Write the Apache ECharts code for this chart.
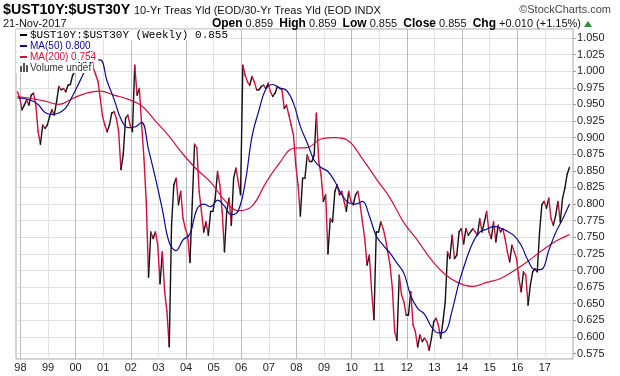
<!DOCTYPE html>
<html>
<head>
<meta charset="utf-8">
<script src="https://cdn.jsdelivr.net/npm/echarts@6/dist/echarts.min.js"></script>
<style>
  html, body { margin: 0; padding: 0; background: #fff; }
  #chart { width: 620px; height: 376px; }
</style>
</head>
<body>
<div id="chart"></div>
<script>
// weekly ratio read off roughly once a month, first point 21-Nov-1997
const startYear = 1997.892
const closeStep = 1 / 12
const closes = [
  0.969, 0.960, 0.942, 0.949, 0.957, 0.949, 0.964, 0.967, 0.949, 0.909, 0.890, 0.919,
  0.914, 0.919, 0.932, 0.942, 0.934, 0.954, 0.977, 0.972, 0.974, 0.969, 0.979, 0.980,
  0.994, 0.999, 1.005, 1.015, 1.020, 1.010, 1.015, 1.025, 1.040, 1.005, 0.995, 0.985,
  0.960, 0.932, 0.919, 0.909, 0.919, 0.937, 0.939, 0.929, 0.909, 0.852, 0.874, 0.929,
  0.934, 0.919, 0.909, 1.009, 0.964, 0.974, 0.919, 0.869, 0.804, 0.690, 0.758, 0.748,
  0.758, 0.738, 0.680, 0.728, 0.668, 0.638, 0.585, 0.768, 0.829, 0.839, 0.799, 0.819,
  0.778, 0.763, 0.753, 0.712, 0.800, 0.890, 0.885, 0.819, 0.789, 0.758, 0.773, 0.753,
  0.789, 0.789, 0.809, 0.849, 0.829, 0.789, 0.728, 0.789, 0.809, 0.768, 0.839, 0.854,
  0.834, 0.814, 1.009, 0.994, 0.984, 0.979, 0.992, 0.984, 0.972, 0.972, 0.977, 0.979,
  0.974, 0.982, 0.969, 0.962, 0.967, 0.977, 0.974, 0.972, 0.944, 0.949, 0.934, 0.919,
  0.904, 0.859, 0.829, 0.782, 0.839, 0.839, 0.874, 0.864, 0.864, 0.874, 0.937, 0.864,
  0.844, 0.804, 0.814, 0.725, 0.778, 0.773, 0.819, 0.829, 0.814, 0.819, 0.804, 0.789,
  0.819, 0.804, 0.799, 0.814, 0.819, 0.799, 0.773, 0.748, 0.708, 0.723, 0.668, 0.626,
  0.758, 0.758, 0.773, 0.763, 0.748, 0.728, 0.708, 0.673, 0.608, 0.595, 0.693, 0.663,
  0.653, 0.633, 0.633, 0.668, 0.618, 0.608, 0.585, 0.603, 0.593, 0.598, 0.593, 0.580,
  0.598, 0.623, 0.628, 0.618, 0.598, 0.623, 0.653, 0.728, 0.718, 0.753, 0.718, 0.723,
  0.758, 0.763, 0.740, 0.763, 0.753, 0.758, 0.763, 0.758, 0.753, 0.778, 0.758, 0.773,
  0.789, 0.758, 0.748, 0.773, 0.743, 0.768, 0.758, 0.763, 0.748, 0.728, 0.713, 0.738,
  0.728, 0.718, 0.688, 0.668, 0.698, 0.693, 0.648, 0.678, 0.698, 0.703, 0.698, 0.758,
  0.799, 0.804, 0.794, 0.809, 0.778, 0.768, 0.783, 0.804, 0.773, 0.809, 0.824, 0.845,
  0.855
]

// MA(50) read every quarter
const ma50Step = 0.25
const ma50 = [
  0.960, 0.959, 0.956, 0.950, 0.938, 0.935, 0.937, 0.945, 0.963, 0.984,
  1.005, 1.016, 1.017, 0.985, 0.958, 0.928, 0.915, 0.916, 0.923, 0.882,
  0.839, 0.792, 0.742, 0.730, 0.746, 0.755, 0.792, 0.800, 0.796, 0.806,
  0.797, 0.784, 0.790, 0.832, 0.902, 0.941, 0.973, 0.980, 0.975, 0.971,
  0.952, 0.917, 0.892, 0.866, 0.855, 0.849, 0.834, 0.814, 0.802, 0.800,
  0.804, 0.782, 0.752, 0.738, 0.726, 0.711, 0.696, 0.662, 0.643, 0.634,
  0.615, 0.606, 0.608, 0.640, 0.682, 0.715, 0.742, 0.758, 0.762, 0.766,
  0.764, 0.759, 0.752, 0.738, 0.715, 0.701, 0.702, 0.730, 0.757, 0.777,
  0.800
]

// MA(200) read every half year
const ma200Step = 0.5
const ma200 = [
  0.962, 0.959, 0.955, 0.950, 0.959, 0.967, 0.970, 0.964, 0.958, 0.948,
  0.925, 0.902, 0.875, 0.852, 0.833, 0.806, 0.790, 0.797, 0.832, 0.862,
  0.884, 0.885, 0.898, 0.900, 0.895, 0.868, 0.838, 0.809, 0.772, 0.745,
  0.716, 0.694, 0.681, 0.676, 0.682, 0.688, 0.700, 0.714, 0.730, 0.744,
  0.754
]

const yearTicks = [1998, 1999, 2000, 2001, 2002, 2003, 2004, 2005, 2006, 2007,
  2008, 2009, 2010, 2011, 2012, 2013, 2014, 2015, 2016, 2017]
const priceTicks = [0.575, 0.600, 0.625, 0.650, 0.675, 0.700, 0.725, 0.750, 0.775, 0.800,
  0.825, 0.850, 0.875, 0.900, 0.925, 0.950, 0.975, 1.000, 1.025, 1.050]

const RED = '#d20f3c'
const NAVY = '#0a0a96'
const SANS = '"Liberation Sans", Arial, sans-serif'

// each item carries the previous close so a segment can be coloured up/down
const priceData = closes.map((v, i) => {
  const j = Math.max(i - 1, 0)
  return [startYear + i * closeStep, v, startYear + j * closeStep, closes[j]]
})
const ma50Data = ma50.map((v, i) => [startYear + i * ma50Step, v])
const ma200Data = ma200.map((v, i) => [startYear + i * ma200Step, v])

const legendRow = (y, text, color, font) => ({
  type: 'text', x: 16, y: y, z: 100,
  style: {
    text: text, fill: color, font: font, verticalAlign: 'middle',
    backgroundColor: '#fff', padding: [0, 2, 0, 14]
  }
})

const option = {
  animation: false,
  grid: {
    left: 16, right: 47, top: 29, bottom: 17,
    show: true, borderColor: '#a8a8a8', borderWidth: 1,
    outerBoundsMode: 'none'
  },
  xAxis: {
    type: 'value',
    min: 1997.84,
    max: 2018.02,
    axisLine: { show: false },
    axisTick: { show: false, customValues: yearTicks },
    axisLabel: {
      customValues: yearTicks,
      formatter: v => String(Math.round(v)).slice(2),
      color: '#222', fontSize: 11, fontFamily: SANS, margin: 3
    },
    splitLine: { show: true, lineStyle: { color: ['#bcbcbc', '#e2e2e2'], width: 1 } }
  },
  yAxis: {
    type: 'value',
    position: 'right',
    min: 0.5667,
    max: 1.0636,
    axisLine: { show: false },
    axisTick: { show: true, customValues: priceTicks, length: 3, lineStyle: { color: '#999' } },
    axisLabel: {
      customValues: priceTicks,
      formatter: v => v.toFixed(3),
      color: '#222', fontSize: 11, fontFamily: SANS, margin: 4
    },
    splitLine: { show: true, lineStyle: { color: '#e2e2e2', width: 1 } }
  },
  series: [
    {
      type: 'custom',
      clip: true,
      z: 2,
      encode: { x: [0, 2], y: [1, 3] },
      data: priceData,
      renderItem: (params, api) => {
        if (params.dataIndex === 0) return
        const p0 = api.coord([api.value(2), api.value(3)])
        const p1 = api.coord([api.value(0), api.value(1)])
        return {
          type: 'line',
          shape: { x1: p0[0], y1: p0[1], x2: p1[0], y2: p1[1] },
          style: {
            stroke: api.value(1) >= api.value(3) ? '#111' : RED,
            lineWidth: 1.4,
            lineCap: 'round'
          }
        }
      }
    },
    {
      name: 'MA(200)', type: 'line', data: ma200Data, smooth: 0.4,
      showSymbol: false, z: 3,
      lineStyle: { color: RED, width: 1.2 }
    },
    {
      name: 'MA(50)', type: 'line', data: ma50Data, smooth: 0.4,
      showSymbol: false, z: 4,
      lineStyle: { color: NAVY, width: 1.2 }
    }
  ],
  graphic: [
    // header
    {
      type: 'text', x: 3, y: 10, scaleX: 0.95, z: 100,
      style: { text: '$UST10Y:$UST30Y', font: 'bold 15px ' + SANS, fill: '#000', verticalAlign: 'middle' }
    },
    {
      type: 'text', x: 134, y: 11, z: 100,
      style: { text: '10-Yr Treas Yld (EOD/30-Yr Treas Yld (EOD INDX', font: '11px ' + SANS, fill: '#111', verticalAlign: 'middle' }
    },
    {
      type: 'text', x: 611, y: 10, z: 100,
      style: { text: '©StockCharts.com', font: '11px ' + SANS, fill: '#444', align: 'right', verticalAlign: 'middle' }
    },
    {
      type: 'text', x: 3, y: 24, z: 100,
      style: { text: '21-Nov-2017', font: '11px ' + SANS, fill: '#111', verticalAlign: 'middle' }
    },
    {
      type: 'text', x: 581, y: 24, z: 100,
      style: {
        text: '{b|Open} 0.859  {b|High} 0.859  {b|Low} 0.855  {b|Close} 0.855  {b|Chg} +0.010 (+1.15%)',
        font: '11px ' + SANS, fill: '#111', align: 'right', verticalAlign: 'middle',
        rich: { b: { font: 'bold 12px ' + SANS, fill: '#000' } }
      }
    },
    {
      type: 'polygon', z: 100,
      shape: { points: [[584, 27], [592, 27], [588, 21]] },
      style: { fill: '#2f8f2f' }
    },
    // legend
    legendRow(35, '$UST10Y:$UST30Y (Weekly) 0.855', '#000', '11px "Liberation Mono", monospace'),
    legendRow(46, 'MA(50) 0.800', NAVY, '10px ' + SANS),
    legendRow(57, 'MA(200) 0.754', RED, '10px ' + SANS),
    legendRow(68, 'Volume undef', '#333', '10px ' + SANS),
    { type: 'line', z: 101, shape: { x1: 20, y1: 35, x2: 27, y2: 35 }, style: { stroke: '#000', lineWidth: 2 } },
    { type: 'line', z: 101, shape: { x1: 20, y1: 46, x2: 27, y2: 46 }, style: { stroke: NAVY, lineWidth: 2 } },
    { type: 'line', z: 101, shape: { x1: 20, y1: 57, x2: 27, y2: 57 }, style: { stroke: RED, lineWidth: 2 } },
    { type: 'rect', z: 101, shape: { x: 20, y: 66, width: 2, height: 6 }, style: { fill: '#555' } },
    { type: 'rect', z: 101, shape: { x: 23, y: 63, width: 2, height: 9 }, style: { fill: '#555' } },
    { type: 'rect', z: 101, shape: { x: 26, y: 65, width: 2, height: 7 }, style: { fill: '#555' } }
  ]
}

const chart = echarts.init(document.getElementById('chart'))
chart.setOption(option)
</script>
</body>
</html>
